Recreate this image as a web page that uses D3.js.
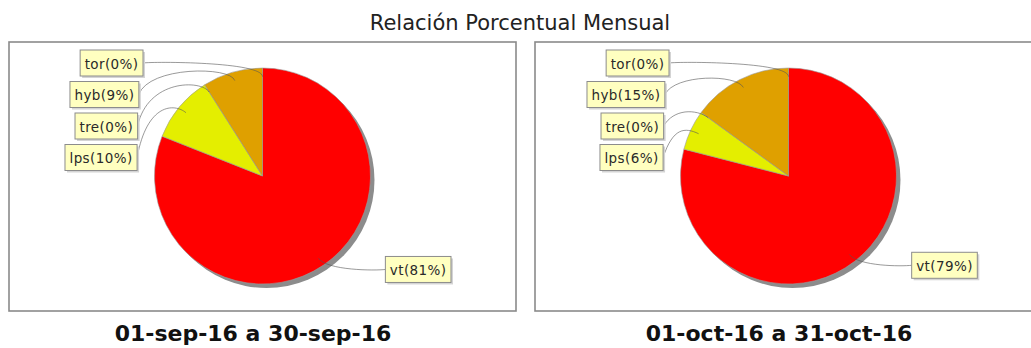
<!DOCTYPE html>
<html>
<head>
<meta charset="utf-8">
<script src="https://cdn.jsdelivr.net/npm/d3@7"></script>
<style>
  html, body { margin: 0; padding: 0; background: #ffffff; }
  svg { display: block; }
</style>
</head>
<body>
<svg id="chart" width="1031" height="348"></svg>
<script>
// Monthly share of each category, one pie per period
const chartTitle = "Relación Porcentual Mensual";
const categories = ["vt", "lps", "tre", "hyb", "tor"];
const periods = ["01-sep-16 a 30-sep-16", "01-oct-16 a 31-oct-16"];
const sepValues = [81, 10, 0, 9, 0];
const octValues = [79, 6, 0, 15, 0];
const sliceColors = ["#ff0000", "#e4ee00", "#3cb44b", "#dfa000", "#4363d8"];

const seriesByPeriod = [sepValues, octValues];

const svg = d3.select("#chart");
const W = 1031, H = 348;

svg.append("rect").attr("width", W).attr("height", H).attr("fill", "#ffffff");

svg.append("text")
  .attr("x", 520).attr("y", 30)
  .attr("text-anchor", "middle")
  .attr("font-family", "DejaVu Sans, Verdana, sans-serif")
  .attr("font-size", 21)
  .attr("fill", "#222")
  .text(chartTitle);

const panelW = 507, panelH = 269, panelTop = 42;
const panelLefts = [9, 535];

const color = d3.scaleOrdinal().domain(categories).range(sliceColors);
const pie = d3.pie().sort(null).value(d => d.value).startAngle(0).endAngle(2 * Math.PI);

const R = 108;
const labelFont = "DejaVu Sans, Verdana, sans-serif";
const labelH = 26, labelGapY = 31.5;

periods.forEach((period, pi) => {
  const px = panelLefts[pi];
  const g = svg.append("g");

  g.append("rect")
    .attr("x", px).attr("y", panelTop)
    .attr("width", panelW).attr("height", panelH)
    .attr("fill", "#ffffff")
    .attr("stroke", "#8a8a8a").attr("stroke-width", 1.6);

  const cx = px + 253.5, cy = 176;
  const data = categories.map((c, i) => ({ name: c, value: seriesByPeriod[pi][i] }));
  const total = d3.sum(data, d => d.value);
  const arcs = pie(data);
  const arc = d3.arc().innerRadius(0).outerRadius(R);

  const pg = g.append("g").attr("transform", `translate(${cx},${cy})`);

  // drop shadow of the pie
  pg.append("circle")
    .attr("cx", 4).attr("cy", 4).attr("r", R)
    .attr("fill", "#8c8c8c");

  pg.selectAll("path.slice")
    .data(arcs.filter(a => a.data.value > 0))
    .join("path")
    .attr("class", "slice")
    .attr("d", arc)
    .attr("fill", d => color(d.data.name))
    .attr("stroke", "#9a9a9a")
    .attr("stroke-width", 0.6);

  // label layout: natural height from slice mid angle, then stacked apart
  const Rl = 113;
  const labels = arcs.map(a => {
    const mid = (a.startAngle + a.endAngle) / 2;
    const side = mid < Math.PI ? "right" : "left";
    return {
      name: a.data.name,
      value: a.data.value,
      mid,
      side,
      y: cy - Rl * Math.cos(mid),
      text: `${a.data.name}(${Math.round(100 * a.data.value / total)}%)`
    };
  });

  ["left", "right"].forEach(side => {
    const group = labels.filter(l => l.side === side).sort((a, b) => a.y - b.y);
    for (let i = 1; i < group.length; i++) {
      if (group[i].y < group[i - 1].y + labelGapY) group[i].y = group[i - 1].y + labelGapY;
    }
  });

  labels.forEach(l => {
    const dy = l.y - cy;
    const off = 119.5 + 6 * Math.sqrt(Math.max(0, 1 - (dy / Rl) * (dy / Rl)));
    l.edgeX = l.side === "left" ? cx - off : cx + off;
  });

  // link curves from the label edge to the slice
  const linkG = g.append("g");
  labels.forEach(l => {
    const dx = Math.sin(l.mid), dyv = -Math.cos(l.mid);
    const linkX = cx + dx * R * 0.92, linkY = cy + dyv * R * 0.92;
    const elbowX = cx + dx * R * 1.06, elbowY = cy + dyv * R * 1.06;
    const anchorX = l.side === "left" ? l.edgeX + 10 : l.edgeX - 10;
    const p = d3.path();
    p.moveTo(l.edgeX, l.y);
    p.bezierCurveTo(anchorX, elbowY, elbowX, elbowY, linkX, linkY);
    linkG.append("path")
      .attr("d", p.toString())
      .attr("fill", "none")
      .attr("stroke", "#555")
      .attr("stroke-opacity", 0.75)
      .attr("stroke-width", 0.8);
  });

  // label boxes
  labels.forEach(l => {
    const t = g.append("text")
      .attr("font-family", labelFont)
      .attr("font-size", 13.5)
      .attr("letter-spacing", 0.4)
      .attr("fill", "#2a2a2a")
      .attr("dominant-baseline", "central")
      .text(l.text);
    const tw = t.node().getComputedTextLength();
    const bw = tw + 9;
    const bx = l.side === "left" ? l.edgeX - bw : l.edgeX;
    const by = l.y - labelH / 2;
    g.insert("rect", "text")
      .attr("x", bx + 2).attr("y", by + 2)
      .attr("width", bw).attr("height", labelH)
      .attr("fill", "#d4d4d4");
    g.insert("rect", "text")
      .attr("x", bx).attr("y", by)
      .attr("width", bw).attr("height", labelH)
      .attr("fill", "#ffffc0")
      .attr("stroke", "#8c8c8c").attr("stroke-width", 1);
    t.attr("x", bx + 4.5).attr("y", l.y + 0.5);
  });

  svg.append("text")
    .attr("x", px + 244).attr("y", 341)
    .attr("text-anchor", "middle")
    .attr("font-family", "DejaVu Sans, Verdana, sans-serif")
    .attr("font-weight", "bold")
    .attr("font-size", 22)
    .attr("fill", "#111")
    .text(period);
});
</script>
</body>
</html>
